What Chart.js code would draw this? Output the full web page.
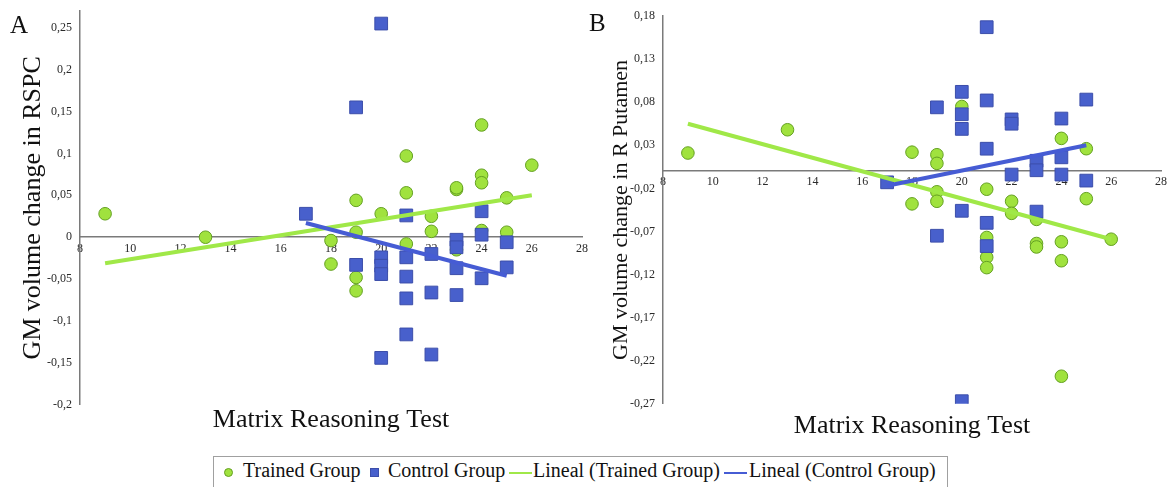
<!DOCTYPE html>
<html>
<head>
<meta charset="utf-8">
<script src="https://cdn.jsdelivr.net/npm/chart.js@4"></script>
<style>
  body { margin: 0; background: #fff; width: 1171px; height: 487px; position: relative; overflow: hidden; font-family: 'Liberation Serif', 'Times New Roman', serif; }
  canvas { position: absolute; top: 0; }
  #cA { left: 0; }
  #cB { left: 580px; }
  .tag { position: absolute; font-size: 25px; color: #111; line-height: 1; }
  #legend { position: absolute; left: 213px; top: 456px; width: 735px; height: 34px; border: 1px solid #a0a0a0; box-sizing: border-box; font-size: 20px; color: #111; white-space: nowrap; z-index: 5; background: #fff; }
  #legend span { position: absolute; top: 2px; }
  .sym { position: absolute; box-sizing: border-box; }
</style>
</head>
<body>
<canvas id="cA" width="592" height="487"></canvas>
<canvas id="cB" width="591" height="487"></canvas>
<div class="tag" style="left:10px; top:12px;">A</div>
<div class="tag" style="left:589px; top:10px;">B</div>
<div id="legend"></div>
<script>
// x = Matrix Reasoning Test score, y = GM volume change
const xTicks = [8, 10, 12, 14, 16, 18, 20, 22, 24, 26, 28];

// Panel A: RSPC
const trainedA = [[9,0.028],[13,0.000],[18,-0.004],[18,-0.032],[19,0.044],[19,0.006],[19,-0.048],[19,-0.064],
  [20,0.028],[21,0.097],[21,0.053],[21,-0.008],[22,0.025],[22,0.007],[23,0.057],[23,0.059],[23,-0.015],
  [24,0.134],[24,0.074],[24,0.065],[24,0.008],[25,0.047],[25,0.006],[26,0.086]];
const controlA = [[17,0.028],[19,0.155],[19,-0.033],[20,0.255],[20,-0.024],[20,-0.034],[20,-0.044],[20,-0.144],
  [21,0.026],[21,-0.024],[21,-0.047],[21,-0.073],[21,-0.116],[22,-0.020],[22,-0.066],[22,-0.140],
  [23,-0.003],[23,-0.012],[23,-0.037],[23,-0.069],[24,0.031],[24,0.003],[24,-0.049],[25,-0.006],[25,-0.036]];
const trainedFitA = [[9,-0.031],[26,0.050]];
const controlFitA = [[17,0.017],[25,-0.046]];
const yTicksA = [-0.2, -0.15, -0.1, -0.05, 0, 0.05, 0.1, 0.15, 0.2, 0.25];
const yLabelsA = ['-0,2', '-0,15', '-0,1', '-0,05', '0', '0,05', '0,1', '0,15', '0,2', '0,25'];

// Panel B: R Putamen
const trainedB = [[9,0.021],[13,0.048],[18,0.022],[18,-0.038],[19,0.019],[19,0.009],[19,-0.024],[19,-0.035],
  [20,0.075],[21,-0.021],[21,-0.077],[21,-0.100],[21,-0.112],[22,-0.035],[22,-0.049],[23,-0.056],[23,-0.084],
  [23,-0.088],[24,0.038],[24,-0.082],[24,-0.104],[24,-0.238],[25,0.026],[25,-0.032],[26,-0.079]];
const controlB = [[17,-0.013],[19,0.074],[19,-0.075],[20,0.092],[20,0.066],[20,0.049],[20,-0.046],[20,-0.267],
  [21,0.167],[21,0.082],[21,0.026],[21,-0.060],[21,-0.087],[22,0.060],[22,0.055],[22,-0.004],
  [23,0.012],[23,0.001],[23,-0.047],[24,0.061],[24,0.016],[24,-0.004],[25,0.083],[25,-0.011]];
const trainedFitB = [[9,0.055],[26,-0.079]];
const controlFitB = [[17,-0.017],[25,0.030]];
const yTicksB = [-0.27, -0.22, -0.17, -0.12, -0.07, -0.02, 0.03, 0.08, 0.13, 0.18];
const yLabelsB = ['-0,27', '-0,22', '-0,17', '-0,12', '-0,07', '-0,02', '0,03', '0,08', '0,13', '0,18'];

const seriesNames = ['Trained Group', 'Control Group', 'Lineal (Trained Group)', 'Lineal (Control Group)'];

const greenFill = 'rgb(160,226,62)';
const greenEdge = 'rgb(100,160,34)';
const greenLine = 'rgb(160,232,72)';
const blueFill = 'rgb(72,96,204)';
const blueEdge = 'rgb(60,78,170)';
const blueLine = 'rgb(70,92,212)';
const axisColor = '#7a7a7a';
const serif = "'Liberation Serif', 'Times New Roman', serif";

const toXY = pts => pts.map(p => ({ x: p[0], y: p[1] }));

function makePanel(id, p) {
  return new Chart(document.getElementById(id), {
    type: 'scatter',
    data: {
      datasets: [
        { label: seriesNames[3], data: toXY(p.ctlFit), showLine: true, borderColor: blueLine, borderWidth: 4,
          pointRadius: 0, xAxisID: 'x', yAxisID: 'y', order: 1 },
        { label: seriesNames[2], data: toXY(p.trnFit), showLine: true, borderColor: greenLine, borderWidth: 4,
          pointRadius: 0, xAxisID: 'x', yAxisID: 'y', order: 2 },
        { label: seriesNames[1], data: toXY(p.ctl), pointStyle: 'rect', pointRadius: 9, backgroundColor: blueFill,
          borderColor: blueEdge, borderWidth: 1, xAxisID: 'x', yAxisID: 'y', order: 3 },
        { label: seriesNames[0], data: toXY(p.trn), pointStyle: 'circle', pointRadius: 6.3, backgroundColor: greenFill,
          borderColor: greenEdge, borderWidth: 1, xAxisID: 'x', yAxisID: 'y', order: 4 }
      ]
    },
    options: {
      responsive: false,
      animation: false,
      devicePixelRatio: 1,
      events: [],
      layout: { padding: { top: p.padTop, right: p.padRight, bottom: p.padBottom, left: 0 } },
      plugins: { legend: { display: false }, tooltip: { enabled: false } },
      scales: {
        x: {
          type: 'linear', min: 8, max: 28, position: { y: 0 },
          grid: { display: false, drawTicks: false },
          border: { color: axisColor, width: 1.5 },
          afterBuildTicks: s => { s.ticks = xTicks.map(v => ({ value: v })); },
          ticks: { padding: 4, font: { family: serif, size: 12 }, color: '#2a2a2a', maxRotation: 0, autoSkip: false }
        },
        y: {
          type: 'linear', min: p.yMin, max: p.yMax,
          grid: { display: false, drawTicks: false },
          border: { color: axisColor, width: 1.5 },
          afterBuildTicks: s => { s.ticks = p.yTicks.map(v => ({ value: v })); },
          afterFit: s => { s.width = p.yWidth; s.paddingTop = 0; s.paddingBottom = 0; },
          ticks: { callback: (v, i) => p.yLabels[i], padding: 8, font: { family: serif, size: 12 }, color: '#2a2a2a' },
          title: { display: true, text: p.yTitle, color: '#111', font: { family: serif, size: p.yTitleSize },
            padding: { top: p.yTitlePad, bottom: 0 } }
        },
        xt: {
          type: 'linear', position: 'bottom',
          grid: { display: false, drawTicks: false }, border: { display: false }, ticks: { display: false },
          title: { display: true, text: 'Matrix Reasoning Test', color: '#111', font: { family: serif, size: 26 },
            padding: { top: p.xTitlePad, bottom: 0 } }
        }
      }
    }
  });
}

makePanel('cA', {
  trn: trainedA, ctl: controlA, trnFit: trainedFitA, ctlFit: controlFitA,
  yMin: -0.2, yMax: 0.27, yTicks: yTicksA, yLabels: yLabelsA,
  yTitle: 'GM volume change in RSPC', yTitleSize: 26, yTitlePad: 18, yWidth: 80,
  padTop: 11, padRight: 7, padBottom: 51, xTitlePad: 0
});
makePanel('cB', {
  trn: trainedB, ctl: controlB, trnFit: trainedFitB, ctlFit: controlFitB,
  yMin: -0.27, yMax: 0.18, yTicks: yTicksB, yLabels: yLabelsB,
  yTitle: 'GM volume change in R Putamen', yTitleSize: 22, yTitlePad: 28, yWidth: 83,
  padTop: 16, padRight: 9, padBottom: 45, xTitlePad: 7
});

// legend spanning both panels
const legend = document.getElementById('legend');
const items = [
  { sym: 'circle', left: 10, text: seriesNames[0], tx: 29 },
  { sym: 'square', left: 156, text: seriesNames[1], tx: 174 },
  { sym: 'gline', left: 295, text: seriesNames[2], tx: 319 },
  { sym: 'bline', left: 510, text: seriesNames[3], tx: 535 }
];
items.forEach(it => {
  const s = document.createElement('div');
  s.className = 'sym';
  if (it.sym === 'circle') {
    Object.assign(s.style, { left: it.left + 'px', top: '11px', width: '9px', height: '9px', borderRadius: '50%',
      background: greenFill, border: '1px solid ' + greenEdge });
  } else if (it.sym === 'square') {
    Object.assign(s.style, { left: it.left + 'px', top: '11px', width: '9px', height: '9px',
      background: blueFill, border: '1px solid ' + blueEdge });
  } else {
    Object.assign(s.style, { left: it.left + 'px', top: '15px', width: '23px', height: '2px',
      background: it.sym === 'gline' ? greenLine : blueLine });
  }
  legend.appendChild(s);
  const t = document.createElement('span');
  t.style.left = it.tx + 'px';
  t.textContent = it.text;
  legend.appendChild(t);
});
</script>
</body>
</html>
